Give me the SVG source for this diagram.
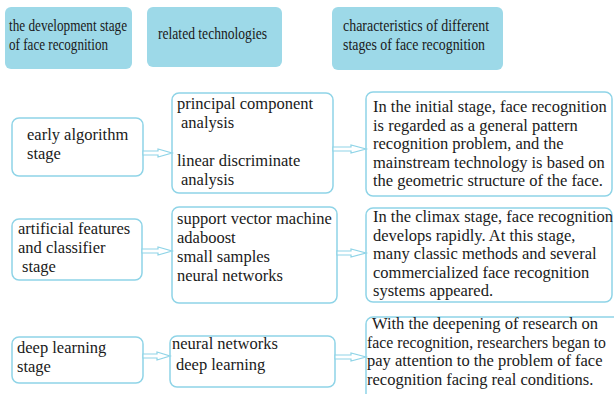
<svg xmlns="http://www.w3.org/2000/svg" width="614" height="394" viewBox="0 0 614 394">
<style>
.hdr{fill:#9dd9e8;stroke:none}
.box{fill:#ffffff;stroke:#8fd4e7;stroke-width:1.5}
.t{font-family:"Liberation Serif","Times New Roman",serif;font-size:16.5px;fill:#1a1a1a}
.h{font-family:"Liberation Serif","Times New Roman",serif;font-size:17px;fill:#1a1a1a}
.arr{fill:#ffffff;stroke:#8fd4e7;stroke-width:1.2;stroke-linejoin:miter}
</style>
<rect width="614" height="394" fill="#ffffff"/>
<g id="header1"><rect class="hdr" x="5" y="7" width="127" height="62" rx="6"/>
<text class="h" x="9" y="31" textLength="118" lengthAdjust="spacingAndGlyphs">the development stage</text>
<text class="h" x="9" y="50" textLength="99" lengthAdjust="spacingAndGlyphs">of face recognition</text></g>
<g id="header2"><rect class="hdr" x="147" y="7" width="135" height="60" rx="6"/>
<text class="h" x="158" y="39" textLength="109" lengthAdjust="spacingAndGlyphs">related technologies</text></g>
<g id="header3"><rect class="hdr" x="332" y="7" width="171" height="63" rx="6"/>
<text class="h" x="343" y="31" textLength="146" lengthAdjust="spacingAndGlyphs">characteristics of different</text>
<text class="h" x="343" y="50" textLength="142" lengthAdjust="spacingAndGlyphs">stages of face recognition</text></g>

<g id="stage1"><rect class="box" x="12" y="118" width="131" height="58" rx="7"/>
<text class="t" x="27" y="140">early algorithm</text>
<text class="t" x="27" y="159">stage</text></g>
<g id="tech1"><rect class="box" x="172" y="93" width="161" height="100" rx="7"/>
<text class="t" x="177" y="109">principal component</text>
<text class="t" x="181" y="128">analysis</text>
<text class="t" x="177" y="166">linear discriminate</text>
<text class="t" x="181" y="185">analysis</text></g>
<g id="char1"><rect class="box" x="366" y="92" width="246" height="104" rx="7"/>
<text class="t" x="373" y="112">In the initial stage, face recognition</text>
<text class="t" x="373" y="130.5">is regarded as a general pattern</text>
<text class="t" x="373" y="149">recognition problem, and the</text>
<text class="t" x="373" y="167.5">mainstream technology is based on</text>
<text class="t" x="373" y="186">the geometric structure of the face.</text></g>

<g id="stage2"><rect class="box" x="12" y="219" width="130" height="61" rx="7"/>
<text class="t" x="18" y="234">artificial features</text>
<text class="t" x="18" y="253">and classifier</text>
<text class="t" x="22" y="272">stage</text></g>
<g id="tech2"><rect class="box" x="172" y="207" width="165" height="96" rx="7"/>
<text class="t" x="177" y="224">support vector machine</text>
<text class="t" x="177" y="243">adaboost</text>
<text class="t" x="177" y="262">small samples</text>
<text class="t" x="177" y="281">neural networks</text></g>
<g id="char2"><rect class="box" x="366" y="208" width="246" height="94" rx="7"/>
<text class="t" x="373" y="222">In the climax stage, face recognition</text>
<text class="t" x="373" y="240.5">develops rapidly. At this stage,</text>
<text class="t" x="373" y="259">many classic methods and several</text>
<text class="t" x="373" y="277.5">commercialized face recognition</text>
<text class="t" x="373" y="296">systems appeared.</text></g>

<g id="stage3"><rect class="box" x="12" y="337" width="131" height="46" rx="7"/>
<text class="t" x="17" y="353">deep learning</text>
<text class="t" x="17" y="372">stage</text></g>
<g id="tech3"><rect class="box" x="170" y="336" width="165" height="51" rx="7"/>
<text class="t" x="172" y="349">neural networks</text>
<text class="t" x="176" y="370">deep learning</text></g>
<g id="char3"><rect class="box" x="366" y="317" width="260" height="90" rx="7"/>
<text class="t" x="372" y="329">With the deepening of research on</text>
<text class="t" x="367" y="347.5" style="font-size:15.8px">face recognition, researchers began to</text>
<text class="t" x="367" y="366">pay attention to the problem of face</text>
<text class="t" x="367" y="384.5">recognition facing real conditions.</text></g>

<g id="connectors">
<path class="arr" d="M143,151 L158,151 L158,149 L172,153 L158,157 L158,155 L143,155 Z"/>
<path class="arr" d="M142,249 L158,249 L158,247 L172,251 L158,255 L158,253 L142,253 Z"/>
<path class="arr" d="M143,354 L157,354 L157,352 L170,356 L157,360 L157,358 L143,358 Z"/>
<path class="arr" d="M333,147 L351,147 L351,145 L366,149 L351,153 L351,151 L333,151 Z"/>
<path class="arr" d="M337,251 L351,251 L351,249 L366,253 L351,257 L351,255 L337,255 Z"/>
<path class="arr" d="M335,355 L351,355 L351,353 L366,357 L351,361 L351,359 L335,359 Z"/>
</g>
</svg>
